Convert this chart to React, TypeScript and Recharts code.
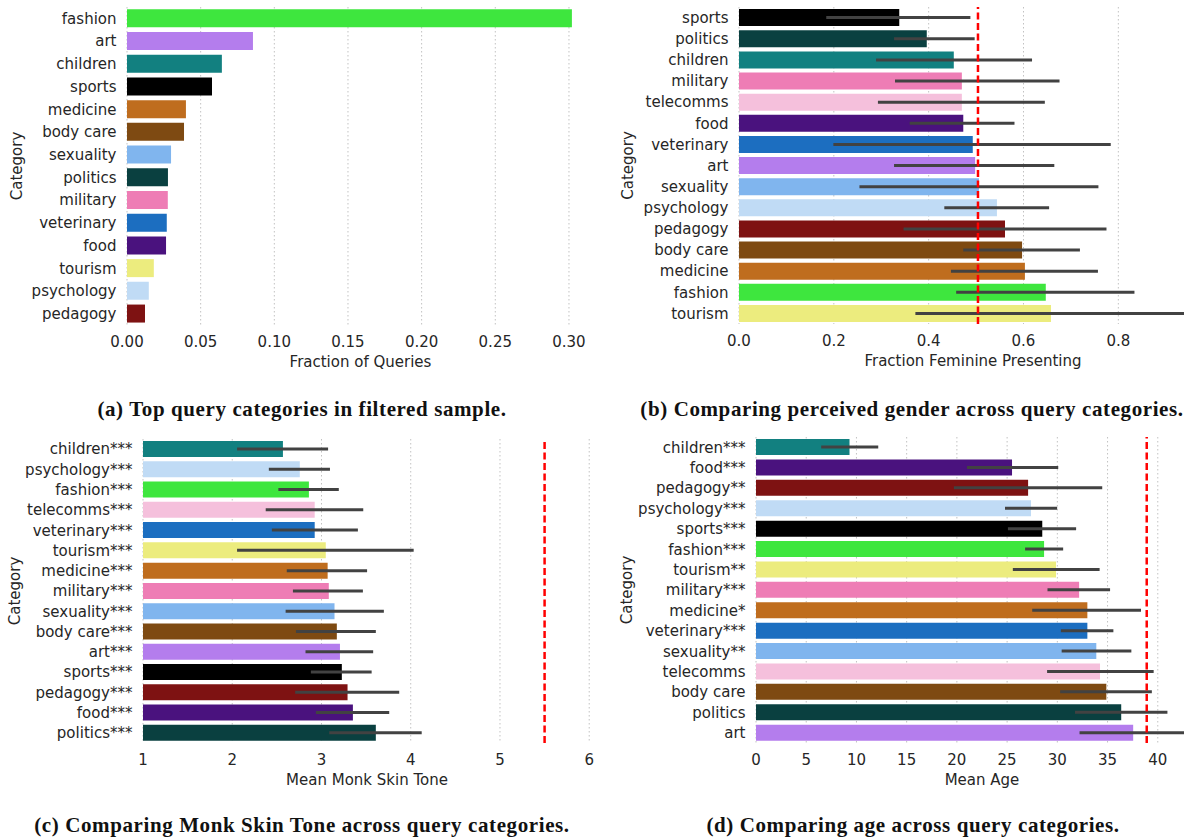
import { BarChart, Bar, XAxis, YAxis, CartesianGrid, ErrorBar, ReferenceLine, Cell } from 'recharts';

const FONT = '"DejaVu Sans", sans-serif';
const INK = '#262626';

// (a) share of queries per category
const catsA = ['fashion', 'art', 'children', 'sports', 'medicine', 'body care', 'sexuality', 'politics', 'military', 'veterinary', 'food', 'tourism', 'psychology', 'pedagogy'];
const fracA = [0.302, 0.0855, 0.0644, 0.0577, 0.04, 0.0387, 0.0299, 0.0278, 0.0277, 0.027, 0.0265, 0.0182, 0.0148, 0.0122];
const ticksA = [0, 0.05, 0.1, 0.15, 0.2, 0.25, 0.3];

// (b) fraction feminine presenting, with CI
const catsB = ['sports', 'politics', 'children', 'military', 'telecomms', 'food', 'veterinary', 'art', 'sexuality', 'psychology', 'pedagogy', 'body care', 'medicine', 'fashion', 'tourism'];
const femB = [0.338, 0.396, 0.453, 0.47, 0.47, 0.473, 0.493, 0.498, 0.506, 0.544, 0.561, 0.597, 0.603, 0.647, 0.658];
const femLoB = [0.184, 0.327, 0.289, 0.329, 0.293, 0.36, 0.199, 0.327, 0.254, 0.433, 0.347, 0.473, 0.447, 0.458, 0.372];
const femHiB = [0.488, 0.497, 0.618, 0.676, 0.645, 0.581, 0.784, 0.665, 0.758, 0.654, 0.775, 0.719, 0.757, 0.834, 0.94];
const ticksB = [0, 0.2, 0.4, 0.6, 0.8];
const refB = 0.504;

// (c) mean Monk skin tone
const catsC = ['children***', 'psychology***', 'fashion***', 'telecomms***', 'veterinary***', 'tourism***', 'medicine***', 'military***', 'sexuality***', 'body care***', 'art***', 'sports***', 'pedagogy***', 'food***', 'politics***'];
const skinC = [2.568, 2.757, 2.859, 2.924, 2.924, 3.048, 3.069, 3.082, 3.146, 3.172, 3.207, 3.228, 3.292, 3.352, 3.609];
const skinLoC = [2.054, 2.41, 2.517, 2.375, 2.444, 2.054, 2.611, 2.68, 2.598, 2.714, 2.821, 2.881, 2.705, 2.937, 3.087];
const skinHiC = [3.074, 3.095, 3.194, 3.468, 3.408, 4.033, 3.511, 3.464, 3.699, 3.609, 3.579, 3.562, 3.871, 3.759, 4.123];
const ticksC = [1, 2, 3, 4, 5, 6];
const refC = 5.5;

// (d) mean age
const catsD = ['children***', 'food***', 'pedagogy**', 'psychology***', 'sports***', 'fashion***', 'tourism**', 'military***', 'medicine*', 'veterinary***', 'sexuality**', 'telecomms', 'body care', 'politics', 'art'];
const ageD = [9.31, 25.49, 27.09, 27.38, 28.5, 28.68, 29.87, 32.17, 32.99, 32.99, 33.88, 34.25, 34.88, 36.36, 37.55];
const ageLoD = [6.49, 21.0, 19.7, 24.79, 25.08, 26.79, 25.57, 29.02, 27.5, 30.35, 30.43, 28.98, 30.28, 31.76, 32.21];
const ageHiD = [12.17, 30.09, 34.47, 29.98, 31.87, 30.58, 34.21, 35.25, 38.33, 35.58, 37.37, 39.59, 39.41, 40.96, 43.0];
const ticksD = [0, 5, 10, 15, 20, 25, 30, 35, 40];
const refD = 38.9;

const COLORS: Record<string, string> = {
  fashion: '#3ee63e',
  art: '#b47ded',
  children: '#128080',
  sports: '#000000',
  medicine: '#bf6d1e',
  'body care': '#7e4a12',
  sexuality: '#80b5ee',
  politics: '#0a4040',
  military: '#ee7db5',
  veterinary: '#1c6ec0',
  food: '#4a127e',
  tourism: '#ecec7e',
  psychology: '#c0dbf5',
  pedagogy: '#7e1212',
  telecomms: '#f5c0dc',
};

interface PanelProps {
  left: number;
  top: number;
  clipWidth: number;
  width: number;
  height: number;
  margin: { top: number; right: number; bottom: number; left: number };
  yWidth: number;
  names: string[];
  values: number[];
  lo?: number[];
  hi?: number[];
  domain: [number, number];
  ticks: number[];
  digits: number;
  xLabel: string;
  catX: number;
  refX?: number;
}

function Panel({ left, top, clipWidth, width, height, margin, yWidth, names, values, lo, hi, domain, ticks, digits, xLabel, catX, refX }: PanelProps) {
  const data = names.map((name, i) => ({
    name,
    value: values[i],
    err: lo && hi ? [values[i] - lo[i], hi[i] - values[i]] : 0,
  }));
  const tickStyle = { fill: INK, fontSize: 15, fontFamily: FONT };

  return (
    <div style={{ position: 'absolute', left, top, width: clipWidth, height, overflow: 'hidden' }}>
      <BarChart width={width} height={height} data={data} layout="vertical" margin={margin} barCategoryGap="10%">
        {/* dotted vertical grid at the tick values only */}
        <CartesianGrid horizontal={false} syncWithTicks stroke="#c2c2c2" strokeDasharray="1.5 2.5" />
        <XAxis
          type="number"
          domain={domain}
          allowDataOverflow
          ticks={ticks}
          tickFormatter={(v: number) => v.toFixed(digits)}
          axisLine={false}
          tickLine={false}
          tickSize={6}
          tickMargin={5}
          height={47}
          tick={tickStyle}
          label={{ value: xLabel, position: 'insideBottom', offset: 5, style: { fill: INK, fontSize: 15, fontFamily: FONT } }}
        />
        <YAxis
          type="category"
          dataKey="name"
          width={yWidth}
          interval={0}
          axisLine={false}
          tickLine={false}
          tickSize={0}
          tickMargin={10.5}
          tick={tickStyle}
          label={{ value: 'Category', angle: -90, position: 'insideLeft', offset: catX, style: { fill: INK, fontSize: 15, fontFamily: FONT, textAnchor: 'middle' } }}
        />
        <Bar dataKey="value" isAnimationActive={false}>
          {data.map((d) => (
            <Cell key={d.name} fill={COLORS[d.name.replace(/\*/g, '')]} />
          ))}
          {lo && <ErrorBar dataKey="err" direction="x" width={0} stroke="#424242" strokeWidth={3} isAnimationActive={false} />}
        </Bar>
        {refX !== undefined && <ReferenceLine x={refX} stroke="#ff0000" strokeWidth={2.5} strokeDasharray="7 3.5" />}
      </BarChart>
    </div>
  );
}

const captionStyle = {
  position: 'absolute' as const,
  width: 600,
  textAlign: 'center' as const,
  fontFamily: '"Liberation Serif", serif',
  fontWeight: 700,
  fontSize: 21,
  letterSpacing: 0.6,
  lineHeight: '21px',
  color: '#111',
  whiteSpace: 'nowrap' as const,
};

export default function App() {
  return (
    <div style={{ position: 'absolute', left: 0, top: 0, width: 1184, height: 840, overflow: 'hidden', background: '#fff' }}>
      <Panel
        left={0} top={0} clipWidth={600} width={600} height={372}
        margin={{ top: 7, right: 6, bottom: 0, left: 0 }} yWidth={127}
        names={catsA} values={fracA} domain={[0, 0.317]} ticks={ticksA} digits={2}
        xLabel="Fraction of Queries" catX={17}
      />
      <Panel
        left={600} top={0} clipWidth={584} width={620} height={371}
        margin={{ top: 7, right: 13, bottom: 0, left: 0 }} yWidth={139}
        names={catsB} values={femB} lo={femLoB} hi={femHiB} domain={[0, 0.987]} ticks={ticksB} digits={1}
        xLabel="Fraction Feminine Presenting" catX={28} refX={refB}
      />
      <Panel
        left={0} top={400} clipWidth={600} width={600} height={390}
        margin={{ top: 39, right: 9, bottom: 0, left: 0 }} yWidth={143}
        names={catsC} values={skinC} lo={skinLoC} hi={skinHiC} domain={[1, 6.02]} ticks={ticksC} digits={0}
        xLabel="Mean Monk Skin Tone" catX={15} refX={refC}
      />
      <Panel
        left={600} top={400} clipWidth={584} width={612} height={390}
        margin={{ top: 37, right: 4, bottom: 0, left: 0 }} yWidth={156}
        names={catsD} values={ageD} lo={ageLoD} hi={ageHiD} domain={[0, 45]} ticks={ticksD} digits={0}
        xLabel="Mean Age" catX={27} refX={refD}
      />
      <div style={{ ...captionStyle, left: 2, top: 399 }}>(a) Top query categories in filtered sample.</div>
      <div style={{ ...captionStyle, left: 612, top: 399 }}>(b) Comparing perceived gender across query categories.</div>
      <div style={{ ...captionStyle, left: 2, top: 815 }}>(c) Comparing Monk Skin Tone across query categories.</div>
      <div style={{ ...captionStyle, left: 613, top: 815 }}>(d) Comparing age across query categories.</div>
    </div>
  );
}
